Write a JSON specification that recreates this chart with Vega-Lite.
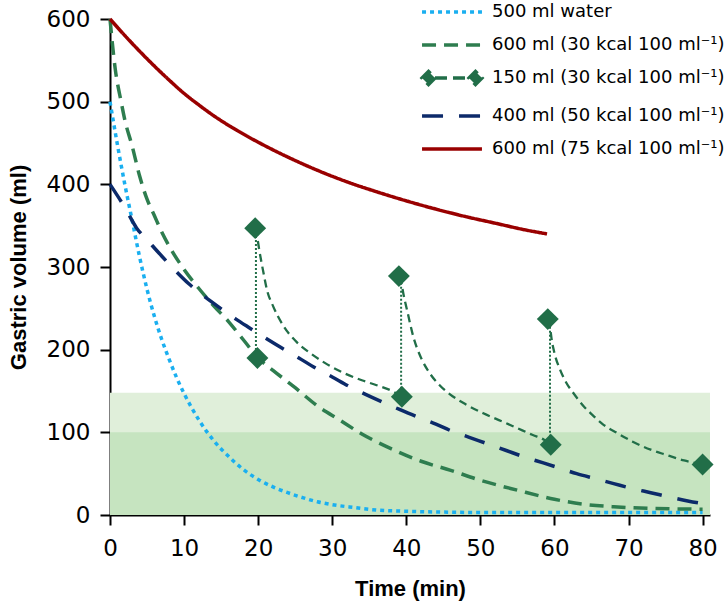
{
  "$schema": "https://vega.github.io/schema/vega-lite/v6.json",
  "width": 600,
  "height": 496,
  "autosize": {"type": "none"},
  "padding": {"left": 110, "top": 19, "right": 14, "bottom": 97},
  "background": "white",
  "config": {
    "view": {"stroke": null}
  },
  "datasets": {
    "bands": [
      {"zone": "light", "x0": 0, "x1": 81, "lo": 0, "hi": 148},
      {"zone": "dark", "x0": 0, "x1": 81, "lo": 0, "hi": 100}
    ],
    "curves": [
      {"series": "500 ml water", "t": 0, "v": 500},
      {"series": "500 ml water", "t": 1, "v": 448},
      {"series": "500 ml water", "t": 2, "v": 400},
      {"series": "500 ml water", "t": 3, "v": 356},
      {"series": "500 ml water", "t": 4, "v": 312},
      {"series": "500 ml water", "t": 5, "v": 273},
      {"series": "500 ml water", "t": 6, "v": 240},
      {"series": "500 ml water", "t": 7, "v": 212},
      {"series": "500 ml water", "t": 8, "v": 188},
      {"series": "500 ml water", "t": 9, "v": 166},
      {"series": "500 ml water", "t": 10, "v": 147},
      {"series": "500 ml water", "t": 12, "v": 115},
      {"series": "500 ml water", "t": 14, "v": 90},
      {"series": "500 ml water", "t": 16, "v": 71},
      {"series": "500 ml water", "t": 18, "v": 55},
      {"series": "500 ml water", "t": 20, "v": 43},
      {"series": "500 ml water", "t": 22, "v": 34},
      {"series": "500 ml water", "t": 24, "v": 27},
      {"series": "500 ml water", "t": 26, "v": 21},
      {"series": "500 ml water", "t": 28, "v": 16},
      {"series": "500 ml water", "t": 30, "v": 12.5},
      {"series": "500 ml water", "t": 33, "v": 9},
      {"series": "500 ml water", "t": 36, "v": 6},
      {"series": "500 ml water", "t": 40, "v": 4.5},
      {"series": "500 ml water", "t": 45, "v": 3.5},
      {"series": "500 ml water", "t": 50, "v": 3},
      {"series": "500 ml water", "t": 60, "v": 3},
      {"series": "500 ml water", "t": 70, "v": 3},
      {"series": "500 ml water", "t": 80, "v": 3},

      {"series": "600 ml (30 kcal 100 ml⁻¹)", "t": 0, "v": 600},
      {"series": "600 ml (30 kcal 100 ml⁻¹)", "t": 0.7, "v": 540},
      {"series": "600 ml (30 kcal 100 ml⁻¹)", "t": 1.5, "v": 500},
      {"series": "600 ml (30 kcal 100 ml⁻¹)", "t": 2, "v": 478},
      {"series": "600 ml (30 kcal 100 ml⁻¹)", "t": 3, "v": 446},
      {"series": "600 ml (30 kcal 100 ml⁻¹)", "t": 4, "v": 410},
      {"series": "600 ml (30 kcal 100 ml⁻¹)", "t": 5, "v": 382},
      {"series": "600 ml (30 kcal 100 ml⁻¹)", "t": 6, "v": 362},
      {"series": "600 ml (30 kcal 100 ml⁻¹)", "t": 7, "v": 342},
      {"series": "600 ml (30 kcal 100 ml⁻¹)", "t": 8, "v": 325},
      {"series": "600 ml (30 kcal 100 ml⁻¹)", "t": 10, "v": 297},
      {"series": "600 ml (30 kcal 100 ml⁻¹)", "t": 12, "v": 274},
      {"series": "600 ml (30 kcal 100 ml⁻¹)", "t": 14, "v": 253},
      {"series": "600 ml (30 kcal 100 ml⁻¹)", "t": 16, "v": 234},
      {"series": "600 ml (30 kcal 100 ml⁻¹)", "t": 18, "v": 212},
      {"series": "600 ml (30 kcal 100 ml⁻¹)", "t": 20, "v": 190},
      {"series": "600 ml (30 kcal 100 ml⁻¹)", "t": 22, "v": 175},
      {"series": "600 ml (30 kcal 100 ml⁻¹)", "t": 25, "v": 154},
      {"series": "600 ml (30 kcal 100 ml⁻¹)", "t": 28, "v": 132},
      {"series": "600 ml (30 kcal 100 ml⁻¹)", "t": 31, "v": 115},
      {"series": "600 ml (30 kcal 100 ml⁻¹)", "t": 34, "v": 98},
      {"series": "600 ml (30 kcal 100 ml⁻¹)", "t": 38, "v": 80},
      {"series": "600 ml (30 kcal 100 ml⁻¹)", "t": 42, "v": 65},
      {"series": "600 ml (30 kcal 100 ml⁻¹)", "t": 46, "v": 54},
      {"series": "600 ml (30 kcal 100 ml⁻¹)", "t": 50, "v": 42},
      {"series": "600 ml (30 kcal 100 ml⁻¹)", "t": 55, "v": 30},
      {"series": "600 ml (30 kcal 100 ml⁻¹)", "t": 60, "v": 19},
      {"series": "600 ml (30 kcal 100 ml⁻¹)", "t": 64, "v": 13},
      {"series": "600 ml (30 kcal 100 ml⁻¹)", "t": 68, "v": 10},
      {"series": "600 ml (30 kcal 100 ml⁻¹)", "t": 73, "v": 8},
      {"series": "600 ml (30 kcal 100 ml⁻¹)", "t": 80, "v": 7},

      {"series": "400 ml (50 kcal 100 ml⁻¹)", "t": 0, "v": 400},
      {"series": "400 ml (50 kcal 100 ml⁻¹)", "t": 2, "v": 372},
      {"series": "400 ml (50 kcal 100 ml⁻¹)", "t": 3.6, "v": 347},
      {"series": "400 ml (50 kcal 100 ml⁻¹)", "t": 5, "v": 333},
      {"series": "400 ml (50 kcal 100 ml⁻¹)", "t": 7, "v": 313},
      {"series": "400 ml (50 kcal 100 ml⁻¹)", "t": 9, "v": 294},
      {"series": "400 ml (50 kcal 100 ml⁻¹)", "t": 10.6, "v": 280},
      {"series": "400 ml (50 kcal 100 ml⁻¹)", "t": 12.5, "v": 266},
      {"series": "400 ml (50 kcal 100 ml⁻¹)", "t": 14.6, "v": 252},
      {"series": "400 ml (50 kcal 100 ml⁻¹)", "t": 17, "v": 237},
      {"series": "400 ml (50 kcal 100 ml⁻¹)", "t": 18.9, "v": 226},
      {"series": "400 ml (50 kcal 100 ml⁻¹)", "t": 21, "v": 214},
      {"series": "400 ml (50 kcal 100 ml⁻¹)", "t": 23.2, "v": 202},
      {"series": "400 ml (50 kcal 100 ml⁻¹)", "t": 25.5, "v": 190},
      {"series": "400 ml (50 kcal 100 ml⁻¹)", "t": 27.5, "v": 179},
      {"series": "400 ml (50 kcal 100 ml⁻¹)", "t": 30, "v": 167},
      {"series": "400 ml (50 kcal 100 ml⁻¹)", "t": 32.2, "v": 156},
      {"series": "400 ml (50 kcal 100 ml⁻¹)", "t": 34.5, "v": 146},
      {"series": "400 ml (50 kcal 100 ml⁻¹)", "t": 36.7, "v": 137},
      {"series": "400 ml (50 kcal 100 ml⁻¹)", "t": 39, "v": 128},
      {"series": "400 ml (50 kcal 100 ml⁻¹)", "t": 41.4, "v": 119},
      {"series": "400 ml (50 kcal 100 ml⁻¹)", "t": 44, "v": 110},
      {"series": "400 ml (50 kcal 100 ml⁻¹)", "t": 46, "v": 102},
      {"series": "400 ml (50 kcal 100 ml⁻¹)", "t": 48.5, "v": 94},
      {"series": "400 ml (50 kcal 100 ml⁻¹)", "t": 51, "v": 86},
      {"series": "400 ml (50 kcal 100 ml⁻¹)", "t": 53.5, "v": 78},
      {"series": "400 ml (50 kcal 100 ml⁻¹)", "t": 56, "v": 70},
      {"series": "400 ml (50 kcal 100 ml⁻¹)", "t": 58.5, "v": 63},
      {"series": "400 ml (50 kcal 100 ml⁻¹)", "t": 60.6, "v": 57},
      {"series": "400 ml (50 kcal 100 ml⁻¹)", "t": 63, "v": 50},
      {"series": "400 ml (50 kcal 100 ml⁻¹)", "t": 65.5, "v": 44},
      {"series": "400 ml (50 kcal 100 ml⁻¹)", "t": 68, "v": 38},
      {"series": "400 ml (50 kcal 100 ml⁻¹)", "t": 70.5, "v": 32},
      {"series": "400 ml (50 kcal 100 ml⁻¹)", "t": 73, "v": 27},
      {"series": "400 ml (50 kcal 100 ml⁻¹)", "t": 75.4, "v": 22},
      {"series": "400 ml (50 kcal 100 ml⁻¹)", "t": 78, "v": 17},
      {"series": "400 ml (50 kcal 100 ml⁻¹)", "t": 80.6, "v": 13},

      {"series": "600 ml (75 kcal 100 ml⁻¹)", "t": 0, "v": 600},
      {"series": "600 ml (75 kcal 100 ml⁻¹)", "t": 2, "v": 580},
      {"series": "600 ml (75 kcal 100 ml⁻¹)", "t": 4, "v": 561},
      {"series": "600 ml (75 kcal 100 ml⁻¹)", "t": 6, "v": 543},
      {"series": "600 ml (75 kcal 100 ml⁻¹)", "t": 8, "v": 526},
      {"series": "600 ml (75 kcal 100 ml⁻¹)", "t": 10, "v": 510},
      {"series": "600 ml (75 kcal 100 ml⁻¹)", "t": 12, "v": 496},
      {"series": "600 ml (75 kcal 100 ml⁻¹)", "t": 14, "v": 483},
      {"series": "600 ml (75 kcal 100 ml⁻¹)", "t": 17, "v": 466},
      {"series": "600 ml (75 kcal 100 ml⁻¹)", "t": 20, "v": 451},
      {"series": "600 ml (75 kcal 100 ml⁻¹)", "t": 24, "v": 433},
      {"series": "600 ml (75 kcal 100 ml⁻¹)", "t": 28, "v": 417},
      {"series": "600 ml (75 kcal 100 ml⁻¹)", "t": 32, "v": 403},
      {"series": "600 ml (75 kcal 100 ml⁻¹)", "t": 36, "v": 391},
      {"series": "600 ml (75 kcal 100 ml⁻¹)", "t": 40, "v": 380},
      {"series": "600 ml (75 kcal 100 ml⁻¹)", "t": 44, "v": 370},
      {"series": "600 ml (75 kcal 100 ml⁻¹)", "t": 48, "v": 361},
      {"series": "600 ml (75 kcal 100 ml⁻¹)", "t": 52, "v": 353},
      {"series": "600 ml (75 kcal 100 ml⁻¹)", "t": 56, "v": 345},
      {"series": "600 ml (75 kcal 100 ml⁻¹)", "t": 59, "v": 340}
    ],
    "refeed": [
      {"seg": 1, "t": 19.7, "v": 347},
      {"seg": 1, "t": 20.2, "v": 318},
      {"seg": 1, "t": 20.7, "v": 294},
      {"seg": 1, "t": 21.2, "v": 272},
      {"seg": 1, "t": 22, "v": 253},
      {"seg": 1, "t": 23.4, "v": 229},
      {"seg": 1, "t": 25, "v": 211},
      {"seg": 1, "t": 27, "v": 196},
      {"seg": 1, "t": 29, "v": 184},
      {"seg": 1, "t": 31.5, "v": 172},
      {"seg": 1, "t": 34, "v": 163},
      {"seg": 1, "t": 36, "v": 157},
      {"seg": 1, "t": 38.3, "v": 149},
      {"seg": 1, "t": 39.4, "v": 143},
      {"seg": 2, "t": 39.2, "v": 289},
      {"seg": 2, "t": 39.6, "v": 268},
      {"seg": 2, "t": 40.1, "v": 248},
      {"seg": 2, "t": 41, "v": 214},
      {"seg": 2, "t": 42, "v": 190},
      {"seg": 2, "t": 43.2, "v": 171},
      {"seg": 2, "t": 44.5, "v": 157},
      {"seg": 2, "t": 45.9, "v": 146},
      {"seg": 2, "t": 48, "v": 134},
      {"seg": 2, "t": 50.4, "v": 123},
      {"seg": 2, "t": 53, "v": 113},
      {"seg": 2, "t": 55, "v": 105},
      {"seg": 2, "t": 57, "v": 97},
      {"seg": 2, "t": 58.6, "v": 91},
      {"seg": 2, "t": 59.5, "v": 85},
      {"seg": 3, "t": 59.3, "v": 237},
      {"seg": 3, "t": 59.6, "v": 214},
      {"seg": 3, "t": 60, "v": 196},
      {"seg": 3, "t": 60.8, "v": 175},
      {"seg": 3, "t": 61.6, "v": 160},
      {"seg": 3, "t": 62.6, "v": 147},
      {"seg": 3, "t": 64, "v": 131},
      {"seg": 3, "t": 64.9, "v": 123},
      {"seg": 3, "t": 66.5, "v": 110},
      {"seg": 3, "t": 68.5, "v": 99},
      {"seg": 3, "t": 70.5, "v": 89},
      {"seg": 3, "t": 73, "v": 79},
      {"seg": 3, "t": 75, "v": 73},
      {"seg": 3, "t": 77.5, "v": 66},
      {"seg": 3, "t": 80, "v": 61}
    ],
    "drops": [
      {"t": 19.7, "lo": 190, "hi": 347},
      {"t": 39.3, "lo": 143, "hi": 289},
      {"t": 59.4, "lo": 85, "hi": 237}
    ],
    "diamonds": [
      {"t": 19.6, "v": 347},
      {"t": 19.9, "v": 190},
      {"t": 39.0, "v": 289},
      {"t": 39.4, "v": 143},
      {"t": 59.1, "v": 237},
      {"t": 59.5, "v": 85},
      {"t": 80.0, "v": 61}
    ]
  },
  "layer": [
    {
      "data": {"name": "bands"},
      "transform": [{"filter": "datum.zone == 'light'"}],
      "mark": {"type": "rect", "fill": "#e0efda"},
      "encoding": {
        "x": {"field": "x0", "type": "quantitative", "scale": {"domain": [0, 81], "nice": false, "zero": false},
              "axis": {"values": [0, 10, 20, 30, 40, 50, 60, 70, 80], "title": "Time (min)",
                       "grid": false, "domainColor": "black", "domainWidth": 2, "tickColor": "black", "tickWidth": 2, "tickSize": 10,
                       "labelFont": "DejaVu Sans", "labelFontSize": 23, "labelColor": "black", "labelPadding": 12, "labelFlush": false,
                       "titleFont": "Liberation Sans", "titleFontSize": 22, "titleFontWeight": "bold", "titleColor": "black", "titlePadding": 18}},
        "x2": {"field": "x1"},
        "y": {"field": "lo", "type": "quantitative", "scale": {"domain": [0, 600], "nice": false},
              "axis": {"values": [0, 100, 200, 300, 400, 500, 600], "title": "Gastric volume (ml)",
                       "grid": false, "domainColor": "black", "domainWidth": 2, "tickColor": "black", "tickWidth": 2, "tickSize": 10,
                       "labelFont": "DejaVu Sans", "labelFontSize": 23, "labelColor": "black", "labelPadding": 10, "labelFlush": false,
                       "titleFont": "Liberation Sans", "titleFontSize": 22, "titleFontWeight": "bold", "titleColor": "black", "titlePadding": 16}},
        "y2": {"field": "hi"}
      }
    },
    {
      "data": {"name": "bands"},
      "transform": [{"filter": "datum.zone == 'dark'"}],
      "mark": {"type": "rect", "fill": "#c6e4c0"},
      "encoding": {
        "x": {"field": "x0", "type": "quantitative"},
        "x2": {"field": "x1"},
        "y": {"field": "lo", "type": "quantitative"},
        "y2": {"field": "hi"}
      }
    },
    {
      "data": {"name": "curves"},
      "mark": {"type": "line", "strokeWidth": 3.5, "strokeCap": "butt", "interpolate": "monotone"},
      "encoding": {
        "x": {"field": "t", "type": "quantitative"},
        "y": {"field": "v", "type": "quantitative"},
        "color": {
          "field": "series", "type": "nominal",
          "scale": {
            "domain": ["500 ml water", "600 ml (30 kcal 100 ml⁻¹)", "150 ml (30 kcal 100 ml⁻¹)", "400 ml (50 kcal 100 ml⁻¹)", "600 ml (75 kcal 100 ml⁻¹)"],
            "range": ["#1aaff0", "#2e7d4f", "#216e48", "#0c2a6a", "#990000"]
          },
          "legend": {
            "title": null,
            "orient": "none",
            "legendX": 320,
            "legendY": -29,
            "symbolType": "M-1.48,0H1.48",
            "symbolSize": 1640,
            "symbolStrokeWidth": 3.5,
            "labelOffset": 18,
            "labelLimit": 400,
            "labelFont": "DejaVu Sans",
            "labelFontSize": 18,
            "labelColor": "black",
            "padding": 0,
            "encode": {
              "symbols": {
                "update": {
                  "shape": {"signal": "substring(datum.value, 0, 3) == '150' ? 'M-0.84,0H0.84 M-1.48,0L-1.16,-0.32L-0.84,0L-1.16,0.32Z M0.84,0L1.16,-0.32L1.48,0L1.16,0.32Z' : 'M-1.48,0H1.48'"},
                  "fill": {"signal": "substring(datum.value, 0, 3) == '150' ? '#216e48' : 'transparent'"}
                }
              }
            }
          }
        },
        "strokeDash": {
          "field": "series", "type": "nominal",
          "scale": {
            "domain": ["500 ml water", "600 ml (30 kcal 100 ml⁻¹)", "150 ml (30 kcal 100 ml⁻¹)", "400 ml (50 kcal 100 ml⁻¹)", "600 ml (75 kcal 100 ml⁻¹)"],
            "range": [[4, 4], [14, 8], [12, 6], [21, 16], [1, 0]]
          },
          "legend": null
        },
        "detail": {"field": "series"}
      }
    },
    {
      "data": {"name": "refeed"},
      "mark": {"type": "line", "strokeWidth": 2.3, "strokeCap": "butt", "strokeDash": [8, 5], "color": "#216e48", "interpolate": "monotone"},
      "encoding": {
        "x": {"field": "t", "type": "quantitative"},
        "y": {"field": "v", "type": "quantitative"},
        "detail": {"field": "seg"}
      }
    },
    {
      "data": {"name": "drops"},
      "mark": {"type": "rule", "strokeWidth": 2, "strokeDash": [2, 2], "color": "#216e48"},
      "encoding": {
        "x": {"field": "t", "type": "quantitative"},
        "y": {"field": "lo", "type": "quantitative"},
        "y2": {"field": "hi"}
      }
    },
    {
      "data": {"name": "diamonds"},
      "mark": {"type": "point", "shape": "diamond", "filled": true, "size": 480, "color": "#216e48", "opacity": 1},
      "encoding": {
        "x": {"field": "t", "type": "quantitative"},
        "y": {"field": "v", "type": "quantitative"}
      }
    }
  ]
}
